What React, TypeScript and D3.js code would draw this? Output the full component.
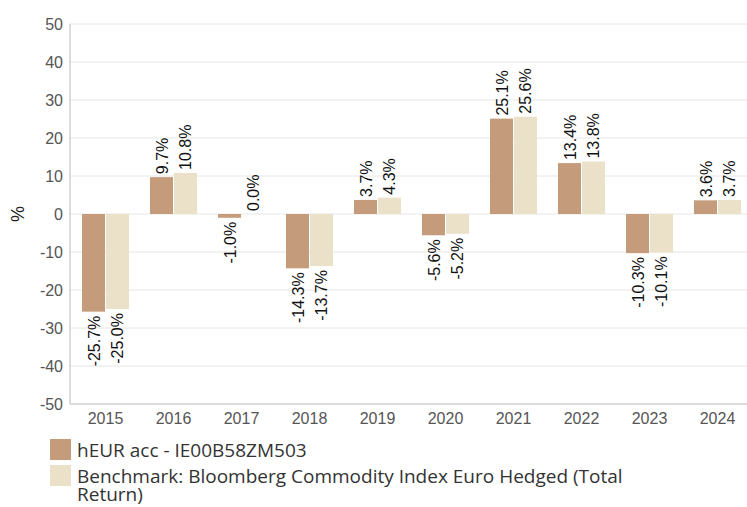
import { useRef, useEffect } from "react";
import * as d3 from "d3";

const years = ["2015", "2016", "2017", "2018", "2019", "2020", "2021", "2022", "2023", "2024"];
const fundValues = [-25.7, 9.7, -1.0, -14.3, 3.7, -5.6, 25.1, 13.4, -10.3, 3.6];
const benchValues = [-25.0, 10.8, 0.0, -13.7, 4.3, -5.2, 25.6, 13.8, -10.1, 3.7];
const yTicks = [50, 40, 30, 20, 10, 0, -10, -20, -30, -40, -50];
const seriesNames = ["hEUR acc - IE00B58ZM503", "Benchmark: Bloomberg Commodity Index Euro Hedged (Total", "Return)"];
const colors = ["#c49c7c", "#ebe0c8"];

const sans = "'Liberation Sans', Arial, sans-serif";

const App = () => {
  const svgRef = useRef<SVGSVGElement>(null);

  useEffect(() => {
    const width = 747;
    const height = 507;
    const left = 71.5;
    const right = 751.5;
    const top = 24;
    const bottom = 404;
    const svg = d3.select(svgRef.current).attr("width", width).attr("height", height);
    svg.selectAll("*").remove();

    const x = d3.scaleBand().domain(years).range([left, right]).paddingInner(0.309).paddingOuter(0.1545);
    const inner = d3.scaleBand().domain(["f", "b"]).range([0, x.bandwidth()]).paddingInner(0.042);
    const y = d3.scaleLinear().domain([-50, 50]).range([bottom, top]);

    // grid
    svg
      .append("g")
      .selectAll("line")
      .data(yTicks)
      .join("line")
      .attr("x1", 70)
      .attr("x2", width)
      .attr("y1", (d) => y(d))
      .attr("y2", (d) => y(d))
      .attr("stroke", (d) => (d === -50 ? "#bbb" : "#e6e6e6"))
      .attr("stroke-width", 1);

    svg.append("line").attr("x1", 70).attr("x2", 70).attr("y1", top).attr("y2", bottom).attr("stroke", "#bbb");

    // y labels
    svg
      .append("g")
      .selectAll("text")
      .data(yTicks)
      .join("text")
      .attr("x", 63)
      .attr("y", (d) => y(d) + 6)
      .attr("text-anchor", "end")
      .attr("font-family", sans)
      .attr("font-size", 16)
      .attr("fill", "#555")
      .text((d) => d);

    svg
      .append("text")
      .attr("transform", `translate(24,${y(0)}) rotate(-90)`)
      .attr("text-anchor", "middle")
      .attr("font-family", sans)
      .attr("font-size", 18)
      .attr("fill", "#222")
      .text("%");

    // x labels
    svg
      .append("g")
      .selectAll("text")
      .data(years)
      .join("text")
      .attr("x", (d) => x(d)! + x.bandwidth() / 2)
      .attr("y", bottom + 20)
      .attr("text-anchor", "middle")
      .attr("font-family", sans)
      .attr("font-size", 16)
      .attr("fill", "#555")
      .text((d) => d);

    const series = [
      { key: "f", values: fundValues, color: colors[0] },
      { key: "b", values: benchValues, color: colors[1] },
    ];

    series.forEach((s) => {
      const g = svg.append("g");
      g.selectAll("rect")
        .data(s.values)
        .join("rect")
        .attr("x", (d, i) => x(years[i])! + inner(s.key)!)
        .attr("width", inner.bandwidth())
        .attr("y", (d) => y(Math.max(0, d)))
        .attr("height", (d) => Math.abs(y(d) - y(0)))
        .attr("fill", s.color);

      g.selectAll("text")
        .data(s.values)
        .join("text")
        .attr("transform", (d, i) => {
          const cx = x(years[i])! + inner(s.key)! + inner.bandwidth() / 2 + 6;
          const cy = d >= 0 ? y(d) - 3 : y(d) + 4;
          return `translate(${cx},${cy}) rotate(-90)`;
        })
        .attr("text-anchor", (d) => (d >= 0 ? "start" : "end"))
        .attr("font-family", sans)
        .attr("font-size", 16)
        .attr("fill", "#111")
        .text((d) => d.toFixed(1) + "%");
    });

    // legend
    const lg = svg.append("g");
    lg.append("rect").attr("x", 50).attr("y", 439).attr("width", 21).attr("height", 21).attr("fill", colors[0]);
    lg.append("rect").attr("x", 50).attr("y", 465).attr("width", 21).attr("height", 21).attr("fill", colors[1]);
    const legendY = [457, 483, 501];
    lg.selectAll("text")
      .data(seriesNames)
      .join("text")
      .attr("x", 77)
      .attr("y", (d, i) => legendY[i])
      .attr("font-family", "'Open Sans', 'Noto Sans', sans-serif")
      .attr("font-size", 19)
      .attr("fill", "#333")
      .text((d) => d);
  }, []);

  return <svg ref={svgRef} style={{ position: "absolute", left: 0, top: 0 }}></svg>;
};

export default App;
